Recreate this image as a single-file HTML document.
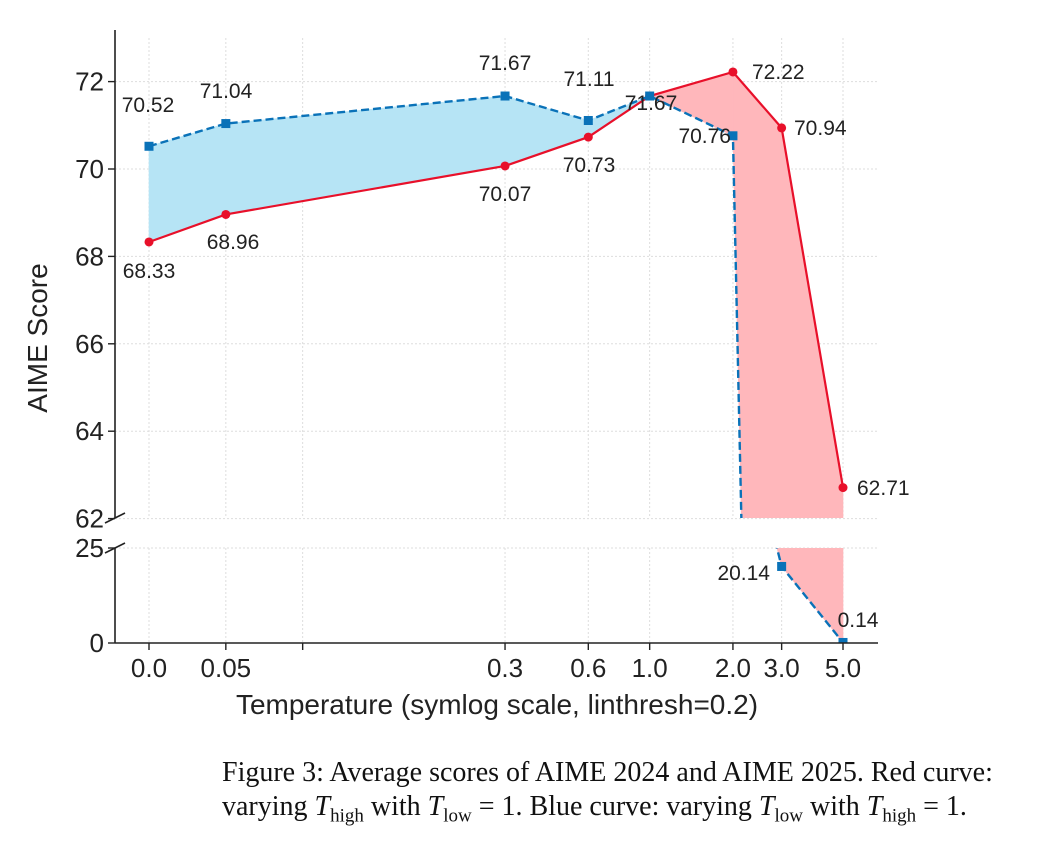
<!DOCTYPE html>
<html><head><meta charset="utf-8"><style>
html,body{margin:0;background:#fff;width:1048px;height:846px;overflow:hidden}
body{position:relative}
svg{font-family:"Liberation Sans",sans-serif}
.cap{position:absolute;left:222px;font-family:"Liberation Serif",serif;font-size:28px;line-height:32px;color:#111;white-space:nowrap}
.cap sub{font-size:19px;line-height:0}
</style></head><body>
<svg id="chart" width="1048" height="846" style="position:absolute;left:0;top:0"></svg>
<div class="cap" style="top:757px">Figure 3: Average scores of AIME 2024 and AIME 2025. Red curve:</div>
<div class="cap" style="top:791px">varying <i>T</i><sub>high</sub> with <i>T</i><sub>low</sub> = 1. Blue curve: varying <i>T</i><sub>low</sub> with <i>T</i><sub>high</sub> = 1.</div>
<script>
const temps=[0,0.05,0.3,0.6,1.0,2.0,3.0,5.0];
const tickLabels=["0.0","0.05","0.3","0.6","1.0","2.0","3.0","5.0"];
const redVals=[68.33,68.96,70.07,70.73,71.67,72.22,70.94,62.71];
const blueVals=[70.52,71.04,71.67,71.11,71.67,70.76,20.14,0.14];
const upperTicks=[62,64,66,68,70,72];
const lowerTicks=[0,25];
const redLabelPos=[[149,278,'middle'],[233,249,'middle'],[505,201,'middle'],[589,172,'middle'],[651,110,'middle'],[752,79,'start'],[794,135,'start'],[857,495,'start']];
const blueLabelPos=[[148,112,'middle'],[226,98,'middle'],[505,70,'middle'],[589,86,'middle'],null,[731,143,'end'],[770,580,'end'],[858,627,'middle']];

const NS='http://www.w3.org/2000/svg';
const svg=document.getElementById('chart');
function mk(t,a,p){const e=document.createElementNS(NS,t);for(const k in a)e.setAttribute(k,a[k]);(p||svg).appendChild(e);return e;}
function f(x){const ls=1/0.9;return x<=0.2?x/0.2*ls:ls+Math.log10(x/0.2);}
const X=x=>149+276.6*f(x);
const YU=v=>169-(v-70)*43.7;
const YL=v=>643-v*3.8;

const defs=mk('defs',{});
const c1=mk('clipPath',{id:'cu'},defs);mk('rect',{x:115,y:30,width:765,height:488},c1);
const c2=mk('clipPath',{id:'cl'},defs);mk('rect',{x:115,y:548,width:765,height:95},c2);

temps.concat([0.1]).forEach(t=>{
  const g1=mk('line',{x1:X(t),x2:X(t),y1:38,y2:518,stroke:'#ddd','stroke-dasharray':'2,2'});
  
  const g2=mk('line',{x1:X(t),x2:X(t),y1:548,y2:643,stroke:'#ddd','stroke-dasharray':'2,2'});
  
});
upperTicks.forEach(v=>{const l=mk('line',{x1:115,x2:878,y1:YU(v),y2:YU(v),stroke:'#ddd','stroke-dasharray':'2,2'});});
lowerTicks.forEach(v=>{const l=mk('line',{x1:115,x2:878,y1:YL(v),y2:YL(v),stroke:'#ddd','stroke-dasharray':'2,2'});});

function drawPanel(Y,clip){
  const g=mk('g',{'clip-path':'url(#'+clip+')'});
  for(let i=0;i<temps.length-1;i++){
    const x0=X(temps[i]),x1=X(temps[i+1]);
    const d0=blueVals[i]-redVals[i],d1=blueVals[i+1]-redVals[i+1];
    const segs=[];
    if(d0*d1<0){const t=d0/(d0-d1);const xm=x0+t*(x1-x0);const vm=redVals[i]+t*(redVals[i+1]-redVals[i]);
      segs.push([[x0,blueVals[i],redVals[i]],[xm,vm,vm],d0]);
      segs.push([[xm,vm,vm],[x1,blueVals[i+1],redVals[i+1]],d1]);
    } else segs.push([[x0,blueVals[i],redVals[i]],[x1,blueVals[i+1],redVals[i+1]],d0+d1]);
    segs.forEach(s=>{
      const [a,b,d]=s;
      const p=mk('polygon',{points:`${a[0]},${Y(a[1])} ${b[0]},${Y(b[1])} ${b[0]},${Y(b[2])} ${a[0]},${Y(a[2])}`,fill:d>0?'#b6e4f5':'#ffb7bb',stroke:d>0?'#b6e4f5':'#ffb7bb','stroke-width':0.6},g);
      
      
    });
  }
  const rl=mk('polyline',{points:temps.map((t,i)=>X(t)+','+Y(redVals[i])).join(' '),fill:'none',stroke:'#e8102a','stroke-width':2.2},g);
  
  const bl=mk('polyline',{points:temps.map((t,i)=>X(t)+','+Y(blueVals[i])).join(' '),fill:'none',stroke:'#0a72b8','stroke-width':2.4,'stroke-dasharray':'8,4'},g);
  
  temps.forEach((t,i)=>{
    const c=mk('circle',{cx:X(t),cy:Y(redVals[i]),r:4.5,fill:'#e8102a'},g);
    
    const r=mk('rect',{x:X(t)-4.5,y:Y(blueVals[i])-4.5,width:9,height:9,fill:'#0a72b8'},g);
    
  });
}
drawPanel(YU,'cu');drawPanel(YL,'cl');

[[115,30,115,518],[115,548,115,643],[115,643,878,643]].forEach(a=>{const l=mk('line',{x1:a[0],y1:a[1],x2:a[2],y2:a[3],stroke:'#222','stroke-width':1.6});});
[[105,523,125,513],[105,553,125,543]].forEach(a=>{const l=mk('line',{x1:a[0],y1:a[1],x2:a[2],y2:a[3],stroke:'#222','stroke-width':1.6});});
upperTicks.forEach(v=>{mk('line',{x1:108,x2:115,y1:YU(v),y2:YU(v),stroke:'#222','stroke-width':1.4});
  const t=mk('text',{x:104,y:YU(v)+9,'text-anchor':'end','font-size':26,fill:'#222'});t.textContent=v;
  });
lowerTicks.forEach(v=>{mk('line',{x1:108,x2:115,y1:YL(v),y2:YL(v),stroke:'#222','stroke-width':1.4});
  const t=mk('text',{x:104,y:YL(v)+9,'text-anchor':'end','font-size':26,fill:'#222'});t.textContent=v;
  });
temps.concat([0.1]).forEach(t=>mk('line',{x1:X(t),x2:X(t),y1:643,y2:650,stroke:'#222','stroke-width':1.4}));
temps.forEach((t,i)=>{const e=mk('text',{x:X(t),y:677,'text-anchor':'middle','font-size':26,fill:'#222'});e.textContent=tickLabels[i];
  });
const xl=mk('text',{x:497,y:714,'text-anchor':'middle','font-size':28,fill:'#222'});xl.textContent='Temperature (symlog scale, linthresh=0.2)';

const yl=mk('text',{x:0,y:0,'text-anchor':'middle','font-size':28,fill:'#222',transform:'translate(47,338) rotate(-90)'});yl.textContent='AIME Score';


redVals.forEach((v,i)=>{const p=redLabelPos[i];if(!p)return;const e=mk('text',{x:p[0],y:p[1],'text-anchor':p[2],'font-size':21,fill:'#222'});e.textContent=v.toFixed(2);
  });
blueVals.forEach((v,i)=>{const p=blueLabelPos[i];if(!p)return;const e=mk('text',{x:p[0],y:p[1],'text-anchor':p[2],'font-size':21,fill:'#222'});e.textContent=v.toFixed(2);
  });
</script>
</body></html>
